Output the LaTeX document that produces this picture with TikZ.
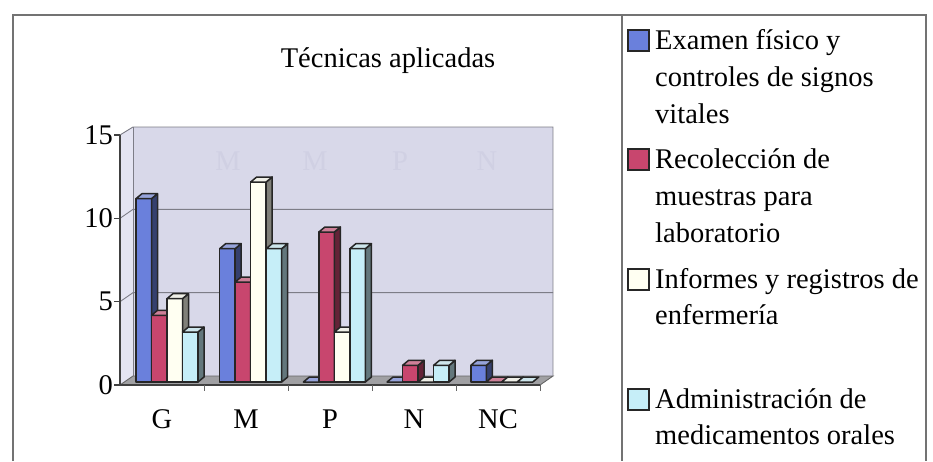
\documentclass[tikz,border=0pt]{standalone}
\usepackage{fontspec}
\setmainfont{Liberation Serif}
\definecolor{barblue}{RGB}{106,128,220}
\definecolor{barred}{RGB}{200,70,110}
\definecolor{barwhite}{RGB}{255,255,242}
\definecolor{barcyan}{RGB}{198,238,248}
\definecolor{wallback}{RGB}{216,216,233}
\definecolor{wallside}{RGB}{228,228,242}
\definecolor{floorgray}{RGB}{160,160,163}
\definecolor{framegray}{RGB}{115,115,115}
\definecolor{gridgray}{RGB}{125,125,135}
\definecolor{ghost}{RGB}{208,208,227}
\definecolor{topgray}{RGB}{215,215,215}
\colorlet{bcA}{barblue}
\colorlet{bcB}{barred}
\colorlet{bcC}{barwhite}
\colorlet{bcD}{barcyan}
\newcommand{\chartbar}[3]{%
  \pgfmathsetmacro{\xa}{#1}%
  \pgfmathsetmacro{\xb}{#1+15.5}%
  \pgfmathsetmacro{\yt}{382-#2*16.667}%
  \ifdim #2pt>0pt
    \filldraw[barline, fill=#3] (\xa,382) rectangle (\xb,\yt);
    \filldraw[barline, fill=#3!50!black] (\xb,382) -- (\xb+6,377) -- (\xb+6,\yt-5) -- (\xb,\yt) -- cycle;
  \fi
  \filldraw[barline, fill=#3!60!topgray] (\xa,\yt) -- (\xa+6,\yt-5) -- (\xb+6,\yt-5) -- (\xb,\yt) -- cycle;
}
\tikzset{
  framestyle/.style={draw=framegray, line width=1.4pt},
  barline/.style={draw=black!85, line width=1.5pt, line join=round},
  gridline/.style={draw=gridgray, line width=0.9pt},
  txt/.style={inner sep=0pt, text=black},
  legline/.style={txt, anchor=base west},
  legbox/.style={draw=black!85, line width=1.5pt}
}
\begin{document}
\begin{tikzpicture}[x=1pt, y=-1pt, font=\fontsize{28.5}{34}\selectfont]
\useasboundingbox (0,0) rectangle (933,461);
\fill[white] (0,0) rectangle (933,461);
% frame
\draw[framestyle] (13,461) -- (13,15) -- (926,15) -- (926,461);
\draw[framestyle] (622,15) -- (622,461);
% title
\node[txt, anchor=base] (title) at (388,67) {Técnicas aplicadas};
% walls
\fill[wallside] (120,385) -- (120,135) -- (133,127) -- (133,376) -- cycle;
\fill[wallback] (133,127) rectangle (553,376);
% ghost letters
\foreach \gx/\gl [count=\gi] in {228/M,315/M,400/P,487/N}
  \node[txt, text=ghost, anchor=base] (ghost\gi) at (\gx,170) {\gl};
% gridlines
\foreach \v in {5,10}{
  \draw[gridline] (120,{385-\v*16.667}) -- (133,{376-\v*16.667}) -- (553,{376-\v*16.667});
}
\draw[gridline] (120,135) -- (133,127) -- (553,127) -- (553,376);
\draw[gridline] (133,127) -- (133,376);
% floor
\filldraw[fill=floorgray, draw=black!60, line width=0.9pt] (120,385) -- (540,385) -- (553,376) -- (133,376) -- cycle;
% axes
\draw[draw=black!75, line width=1.1pt] (120,135) -- (120,385) -- (540,385);
\foreach \v in {0,5,10,15}{
  \draw[draw=black!75, line width=1.1pt] (114,{385-\v*16.667}) -- (120,{385-\v*16.667});
  \node[txt, anchor=east] (ylab\v) at (113,{385-\v*16.667}) {\v};
}
\foreach \k in {1,...,5}{
  \draw[draw=black!60, line width=1pt] ({120+84*\k},385) -- ({120+84*\k},391);
}
\foreach \c/\lab in {0/G,1/M,2/P,3/N,4/NC}{
  \node[txt, anchor=base] (cat\c) at ({162+84*\c},428) {\lab};
}
% bars
\foreach \i/\j/\v in {
  0/0/11, 0/1/4, 0/2/5, 0/3/3,
  1/0/8, 1/1/6, 1/2/12, 1/3/8,
  2/0/0, 2/1/9, 2/2/3, 2/3/8,
  3/0/0, 3/1/1, 3/2/0, 3/3/1,
  4/0/1, 4/1/0, 4/2/0, 4/3/0}{
  \pgfmathsetmacro{\bx}{136+83.7*\i+15.5*\j}
  \ifcase\j \def\bc{bcA}\or \def\bc{bcB}\or \def\bc{bcC}\or \def\bc{bcD}\fi
  \chartbar{\bx}{\v}{\bc}
}
% legend
\foreach \b/\col [count=\n] in {49/barblue,168/barred,288/barwhite,408/barcyan}{
  \filldraw[legbox, fill=\col] (628,{\b-19}) rectangle (649,{\b+2});
}
\node[legline] (la1) at (655,49) {Examen físico y};
\node[legline] (la2) at (655,86) {controles de signos};
\node[legline] (la3) at (655,123) {vitales};
\node[legline] (lb1) at (655,168) {Recolección de};
\node[legline] (lb2) at (655,205) {muestras para};
\node[legline] (lb3) at (655,242) {laboratorio};
\node[legline] (lc1) at (655,288) {Informes y registros de};
\node[legline] (lc2) at (655,324) {enfermería};
\node[legline] (ld1) at (655,408) {Administración de};
\node[legline] (ld2) at (655,444) {medicamentos orales};
\end{tikzpicture}
\end{document}
